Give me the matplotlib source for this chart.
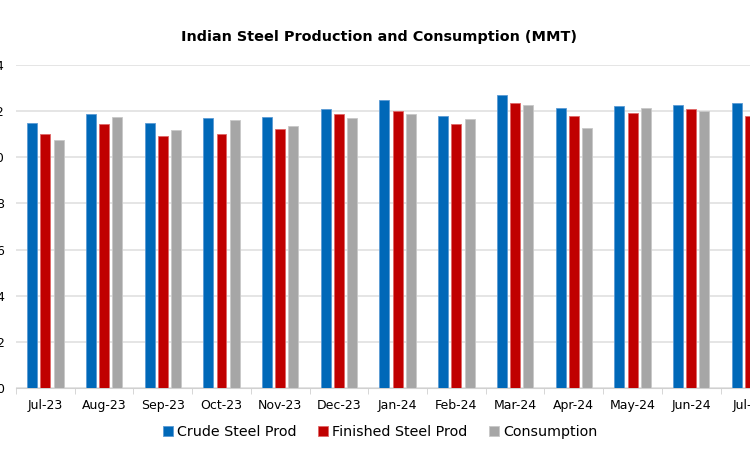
import numpy as np
from matplotlib import pyplot as plt

# Indian steel production and consumption (MMT)
months = ["Jul-23", "Aug-23", "Sep-23", "Oct-23", "Nov-23", "Dec-23", "Jan-24",
          "Feb-24", "Mar-24", "Apr-24", "May-24", "Jun-24", "Jul-24"]
crude = [11.48, 11.86, 11.47, 11.69, 11.75, 12.11, 12.50, 11.77, 12.70, 12.13, 12.21, 12.25, 12.34]
finished = [11.01, 11.46, 10.92, 11.01, 11.21, 11.89, 11.99, 11.44, 12.34, 11.77, 11.90, 12.08, 11.77]
consumption = [10.74, 11.73, 11.17, 11.60, 11.36, 11.70, 11.86, 11.64, 12.25, 11.27, 12.13, 12.02, np.nan]

plt.rcParams['font.family'] = ['DejaVu Sans']

fig = plt.figure(figsize=(7.5, 4.66), dpi=100)
ax = fig.add_axes([0.0213, 0.1674, 0.9787, 0.6931])

x = np.arange(len(months))
w = 0.17
ax.bar(x - 0.225, crude, width=w, color="#0068B8", edgecolor="#5A9BD5", linewidth=0.6,
       label="Crude Steel Prod", zorder=3)
ax.bar(x, finished, width=w, color="#C00000", edgecolor="#E06666", linewidth=0.6,
       label="Finished Steel Prod", zorder=3)
ax.bar(x + 0.225, consumption, width=w, color="#A6A6A6", edgecolor="#C8C8C8", linewidth=0.6,
       label="Consumption", zorder=3)

ax.set_yticks(range(0, 15, 2))
ax.yaxis.grid(True, color="#E0E0E0", linewidth=1.2, zorder=0)
ax.tick_params(axis='y', length=0, pad=8.5, labelsize=9)

ax.set_xticks(x)
ax.set_xticklabels(months)
ax.set_xticks(np.arange(-0.5, len(months), 1), minor=True)
ax.tick_params(axis='x', which='major', length=0, pad=8, labelsize=9)
ax.tick_params(axis='x', which='minor', length=4, color="#D0D0D0")

# limits after ticks, so the chart is cut at the right like the source
ax.set_xlim(-0.5, 12.0)
ax.set_ylim(0, 14)

for s in ["top", "right", "left"]:
    ax.spines[s].set_visible(False)
ax.spines["bottom"].set_color("#D0D0D0")

fig.suptitle("Indian Steel Production and Consumption (MMT)", x=0.505, y=0.935,
             fontsize=10.4, fontweight="bold")

fig.legend(loc="center", bbox_to_anchor=(0.507, 0.073), ncol=3, frameon=False,
           fontsize=10.3, handlelength=0.7, handleheight=0.7, handletextpad=0.3,
           columnspacing=1.5)

plt.savefig("out.png", dpi=100)
